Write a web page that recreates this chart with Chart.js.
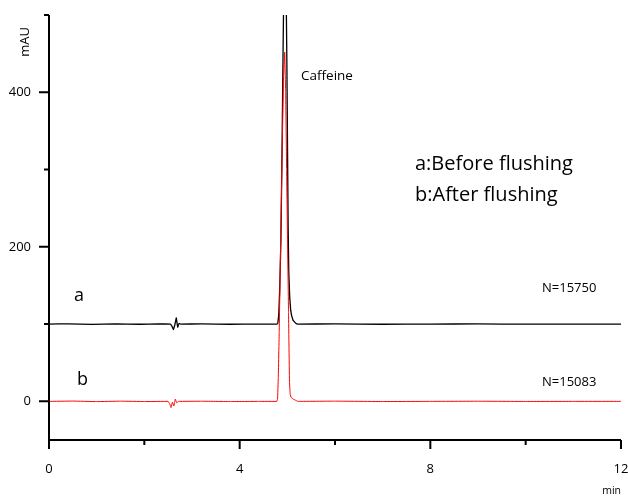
<!DOCTYPE html>
<html>
<head>
<meta charset="utf-8">
<script src="https://cdn.jsdelivr.net/npm/chart.js@4.4.1/dist/chart.umd.min.js"></script>
<style>
  html, body { margin: 0; padding: 0; background: #fff; }
  canvas { display: block; }
</style>
</head>
<body>
<canvas id="chromChart" width="628" height="497"></canvas>
<script>
// trace a: before flushing (baseline offset 100 mAU)
const traceA_t = [0, 0.4, 0.9, 1.4, 1.9, 2.3, 2.55, 2.58, 2.61, 2.64, 2.67, 2.70, 2.73, 2.76, 3.2, 3.8, 4.4, 4.78,
  4.80, 4.82, 4.84, 4.865, 4.89, 4.91, 4.93, 4.95, 4.97, 4.99, 5.005, 5.017, 5.03, 5.05, 5.07, 5.09, 5.12, 5.17, 5.22,
  6.0, 7.0, 8.0, 9.0, 10.0, 11.0, 12.0];
const traceA_mAU = [100, 100.4, 99.7, 100.3, 99.8, 100.2, 100, 97, 93, 99, 108, 96, 101, 100, 100.2, 99.8, 100, 100,
  101, 112, 145, 208, 330, 450, 560, 585, 560, 440, 320, 225, 168, 135, 118, 111, 105, 101.5, 100,
  100.2, 99.8, 100, 100.2, 99.9, 100, 100];

// trace b: after flushing
const traceB_t = [0, 0.5, 1.0, 1.5, 2.0, 2.5, 2.53, 2.56, 2.59, 2.62, 2.65, 2.68, 2.72, 3.2, 3.8, 4.4, 4.78,
  4.795, 4.81, 4.83, 4.86, 4.89, 4.92, 4.945, 4.965, 4.985, 5.005, 5.025, 5.045, 5.06, 5.08, 5.12, 5.17, 5.22,
  6.0, 7.0, 8.0, 9.0, 10.0, 11.0, 12.0];
const traceB_mAU = [0, 0.4, -0.3, 0.3, -0.2, 0, -3, -8, -1, -6, 3, -2, 0, 0.2, -0.2, 0, 0,
  3, 30, 90, 205, 320, 420, 452, 400, 300, 205, 115, 25, 9, 5, 3, 1.5, 0,
  0.3, -0.2, 0, 0.2, -0.1, 0, 0];

// axes
const xTickValues = [0, 4, 8, 12];
const xMinorTicks = [2, 6, 10];
const yTickValues = [0, 200, 400];
const yMinorTicks = [100, 300, 500];

const FONT = "'Open Sans', 'Noto Sans', sans-serif";

function toPoints(ts, vs) {
  return ts.map((t, i) => ({ x: t, y: vs[i] }));
}

// axis lines, tick marks and the text labels
const decorPlugin = {
  id: "decor",
  afterDraw(chart) {
    const ctx = chart.ctx;
    const xs = chart.scales.x;
    const ys = chart.scales.y;
    const area = chart.chartArea;
    ctx.save();
    ctx.strokeStyle = "#000";
    ctx.lineWidth = 2;
    ctx.beginPath();
    ctx.moveTo(area.left, area.top);
    ctx.lineTo(area.left, area.bottom);
    ctx.lineTo(area.right, area.bottom);
    ctx.stroke();

    ctx.beginPath();
    yTickValues.forEach(v => {
      const p = ys.getPixelForValue(v);
      ctx.moveTo(area.left - 10, p); ctx.lineTo(area.left, p);
    });
    yMinorTicks.forEach(v => {
      const p = ys.getPixelForValue(v);
      ctx.moveTo(area.left - 5, p); ctx.lineTo(area.left, p);
    });
    xTickValues.forEach(v => {
      const p = xs.getPixelForValue(v);
      ctx.moveTo(p, area.bottom); ctx.lineTo(p, area.bottom + 9);
    });
    xMinorTicks.forEach(v => {
      const p = xs.getPixelForValue(v);
      ctx.moveTo(p, area.bottom); ctx.lineTo(p, area.bottom + 5);
    });
    ctx.stroke();

    ctx.fillStyle = "#000";
    ctx.textBaseline = "middle";
    ctx.textAlign = "left";

    ctx.font = "13.5px " + FONT;
    ctx.fillText("Caffeine", 301, 76);

    ctx.font = "20px " + FONT;
    ctx.fillText("a:Before flushing", 415, 164);
    ctx.fillText("b:After flushing", 415, 195);

    ctx.font = "18px " + FONT;
    ctx.fillText("a", 74, 296);
    ctx.fillText("b", 77, 380);

    ctx.font = "13px " + FONT;
    ctx.fillText("N=15750", 542, 288);
    ctx.fillText("N=15083", 542, 382);

    ctx.textAlign = "right";
    ctx.font = "10.5px " + FONT;
    ctx.fillText("min", 621, 491);

    ctx.translate(25, 42);
    ctx.rotate(-Math.PI / 2);
    ctx.textAlign = "center";
    ctx.font = "13px " + FONT;
    ctx.fillText("mAU", 0, 0);
    ctx.restore();
  },
};

new Chart(document.getElementById("chromChart").getContext("2d"), {
  type: "line",
  data: {
    datasets: [
      {
        label: "b",
        data: toPoints(traceB_t, traceB_mAU),
        borderColor: "#ff0000",
        borderWidth: 1,
        borderJoinStyle: "round",
        pointRadius: 0,
        tension: 0.01, // non-zero so Chart.js skips its per-pixel fast path
        order: 1,
      },
      {
        label: "a",
        data: toPoints(traceA_t, traceA_mAU),
        borderColor: "#000000",
        borderWidth: 1.3,
        borderJoinStyle: "round",
        pointRadius: 0,
        tension: 0.01,
        order: 2,
      },
    ],
  },
  options: {
    responsive: false,
    animation: false,
    layout: { padding: { top: 15, right: 7, left: 0, bottom: 0 } },
    plugins: {
      legend: { display: false },
      tooltip: { enabled: false },
    },
    scales: {
      x: {
        type: "linear",
        min: 0,
        max: 12,
        grid: { display: false, drawTicks: false },
        border: { display: false },
        afterBuildTicks: s => { s.ticks = xTickValues.map(v => ({ value: v })); },
        afterFit: s => {
          s.height = 57;
          s.paddingLeft = 0; s.paddingRight = 0;
          s.paddingTop = 0; s.paddingBottom = 0;
        },
        ticks: {
          color: "#000",
          padding: 21,
          maxRotation: 0,
          font: { family: FONT, size: 13 },
        },
      },
      y: {
        min: -50,
        max: 500,
        grid: { display: false, drawTicks: false },
        border: { display: false },
        afterBuildTicks: s => { s.ticks = yTickValues.map(v => ({ value: v })); },
        afterFit: s => {
          s.width = 49;
          s.paddingLeft = 0; s.paddingRight = 0;
          s.paddingTop = 0; s.paddingBottom = 0;
        },
        ticks: {
          color: "#000",
          padding: 18,
          font: { family: FONT, size: 13 },
        },
      },
    },
  },
  plugins: [decorPlugin],
});
</script>
</body>
</html>
